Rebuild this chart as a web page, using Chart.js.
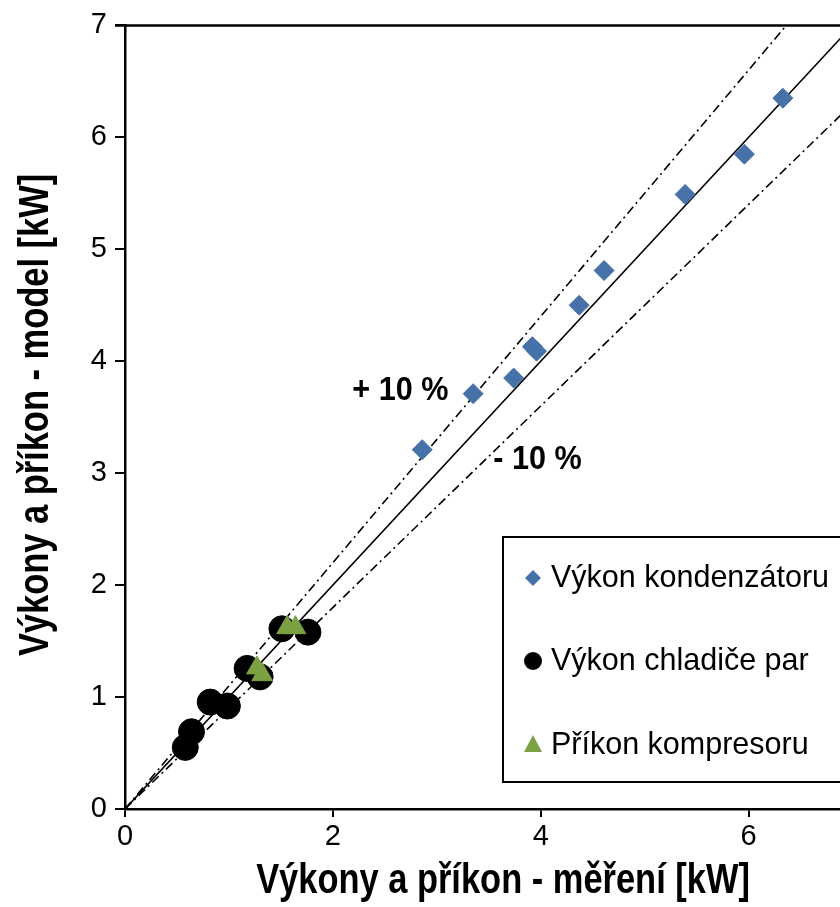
<!DOCTYPE html>
<html>
<head>
<meta charset="utf-8">
<script src="https://cdn.jsdelivr.net/npm/chart.js@4.4.1/dist/chart.umd.min.js"></script>
<style>
  html, body { margin: 0; padding: 0; background: #fff; overflow: hidden; }
  canvas { display: block; }
</style>
</head>
<body>
<canvas id="chart" width="840" height="907"></canvas>
<script>
// values (kW)
const condMeasured = [2.86, 3.35, 3.74, 3.92, 3.96, 4.37, 4.61, 5.39, 5.96, 6.33];
const condModel    = [3.21, 3.71, 3.85, 4.13, 4.09, 4.50, 4.81, 5.49, 5.85, 6.35];
const coolMeasured = [0.58, 0.64, 0.82, 0.985, 1.175, 1.30, 1.51, 1.76];
const coolModel    = [0.55, 0.69, 0.955, 0.92, 1.256, 1.18, 1.61, 1.58];
const compMeasured = [1.27, 1.32, 1.56, 1.64];
const compModel    = [1.26, 1.20, 1.62, 1.62];

const seriesNames = ['Výkon kondenzátoru', 'Výkon chladiče par', 'Příkon kompresoru'];
const refRatios = [1, 1.1, 0.9];
const refEnds = [0, 8];
const noteTexts = ['+ 10 %', '- 10 %'];
const noteX = [2.65, 3.97];
const noteY = [3.74, 3.12];

const xTitle = 'Výkony a příkon - měření [kW]';
const yTitle = 'Výkony a příkon - model [kW]';

const blue = '#4672A9';
const green = '#7BA143';
const black = '#000000';

function pts(xs, ys) {
  return xs.map((x, i) => ({ x: x, y: ys[i] }));
}

const tickFont = { family: 'Liberation Sans, Arial, sans-serif', size: 29 };

const lineSets = refRatios.map((r, i) => ({
  type: 'line',
  data: refEnds.map(v => ({ x: v, y: v * r })),
  borderColor: black,
  borderWidth: 1.6,
  borderDash: i === 0 ? [] : [9, 4, 2, 4],
  pointRadius: 0,
  fill: false
}));

// no narrow font installed, so squeeze the bold text a bit
function narrowText(c, text, x, y, squeeze) {
  c.save();
  c.translate(x, y);
  c.scale(squeeze, 1);
  c.fillText(text, 0, 0);
  c.restore();
}

// titles, top line, notes and legend box
const extras = {
  id: 'extras',
  afterDraw(chart) {
    const c = chart.ctx;
    const a = chart.chartArea;
    const xs = chart.scales.x, ys = chart.scales.y;
    c.save();
    c.strokeStyle = black;
    c.lineWidth = 2.5;
    c.beginPath();
    c.moveTo(a.left - 10, a.top);
    c.lineTo(a.right, a.top);
    c.stroke();

    c.fillStyle = black;
    c.font = 'bold 42px "Liberation Sans", Arial, sans-serif';
    c.textAlign = 'center';
    c.textBaseline = 'alphabetic';
    narrowText(c, xTitle, 503, 893, 0.82);
    c.save();
    c.translate(48, 415);
    c.rotate(-Math.PI / 2);
    narrowText(c, yTitle, 0, 0, 0.82);
    c.restore();

    c.font = 'bold 34px "Liberation Sans", Arial, sans-serif';
    c.textBaseline = 'middle';
    noteTexts.forEach((t, i) => {
      narrowText(c, t, xs.getPixelForValue(noteX[i]), ys.getPixelForValue(noteY[i]), 0.9);
    });

    // legend
    const lx = 503, ly = 537, lh = 245;
    c.lineWidth = 2;
    c.strokeRect(lx, ly, 400, lh);
    const rows = [578, 661, 745];
    c.font = '30.5px "Liberation Sans", Arial, sans-serif';
    c.textAlign = 'left';
    rows.forEach((y, i) => {
      const mx = 533;
      c.beginPath();
      if (i === 0) {
        c.fillStyle = blue;
        c.moveTo(mx, y - 8); c.lineTo(mx + 8, y); c.lineTo(mx, y + 8); c.lineTo(mx - 8, y);
      } else if (i === 1) {
        c.fillStyle = black;
        c.arc(mx, y, 9, 0, Math.PI * 2);
      } else {
        c.fillStyle = green;
        c.moveTo(mx, y - 10); c.lineTo(mx + 9, y + 7); c.lineTo(mx - 9, y + 7);
      }
      c.closePath();
      c.fill();
      c.fillStyle = black;
      c.fillText(seriesNames[i], 551, y + 1);
    });
    c.restore();
  }
};

new Chart(document.getElementById('chart'), {
  type: 'scatter',
  data: {
    datasets: [
      {
        label: seriesNames[0],
        data: pts(condMeasured, condModel),
        pointStyle: 'rectRot',
        pointRadius: 10,
        backgroundColor: blue,
        borderColor: blue,
        borderWidth: 1
      },
      {
        label: seriesNames[2],
        data: pts(compMeasured, compModel),
        pointStyle: 'triangle',
        pointRadius: 12,
        backgroundColor: green,
        borderColor: green,
        borderWidth: 1
      },
      {
        label: seriesNames[1],
        data: pts(coolMeasured, coolModel),
        pointStyle: 'circle',
        pointRadius: 13,
        backgroundColor: black,
        borderColor: black,
        borderWidth: 1
      },
      ...lineSets
    ]
  },
  options: {
    responsive: false,
    animation: false,
    devicePixelRatio: 1,
    layout: { autoPadding: false, padding: { top: 25, right: 0, left: 0, bottom: 0 } },
    plugins: {
      legend: { display: false },
      tooltip: { enabled: false }
    },
    scales: {
      x: {
        type: 'linear',
        min: 0,
        max: 6.88,
        afterFit(scale) {
          scale.height = 98;
          scale.paddingRight = 0;
          scale.paddingLeft = 0;
        },
        ticks: { stepSize: 2, includeBounds: false, color: black, font: tickFont, padding: 3, maxRotation: 0 },
        grid: { drawOnChartArea: false, drawTicks: true, tickLength: 8, color: black, lineWidth: 2 },
        border: { color: black, width: 2.5 }
      },
      y: {
        type: 'linear',
        min: 0,
        max: 7,
        afterFit(scale) { scale.width = 125; },
        ticks: { stepSize: 1, color: black, font: tickFont, padding: 8 },
        grid: { drawOnChartArea: false, drawTicks: true, tickLength: 10, color: black, lineWidth: 2 },
        border: { color: black, width: 2.5 }
      }
    }
  },
  plugins: [extras]
});
</script>
</body>
</html>
